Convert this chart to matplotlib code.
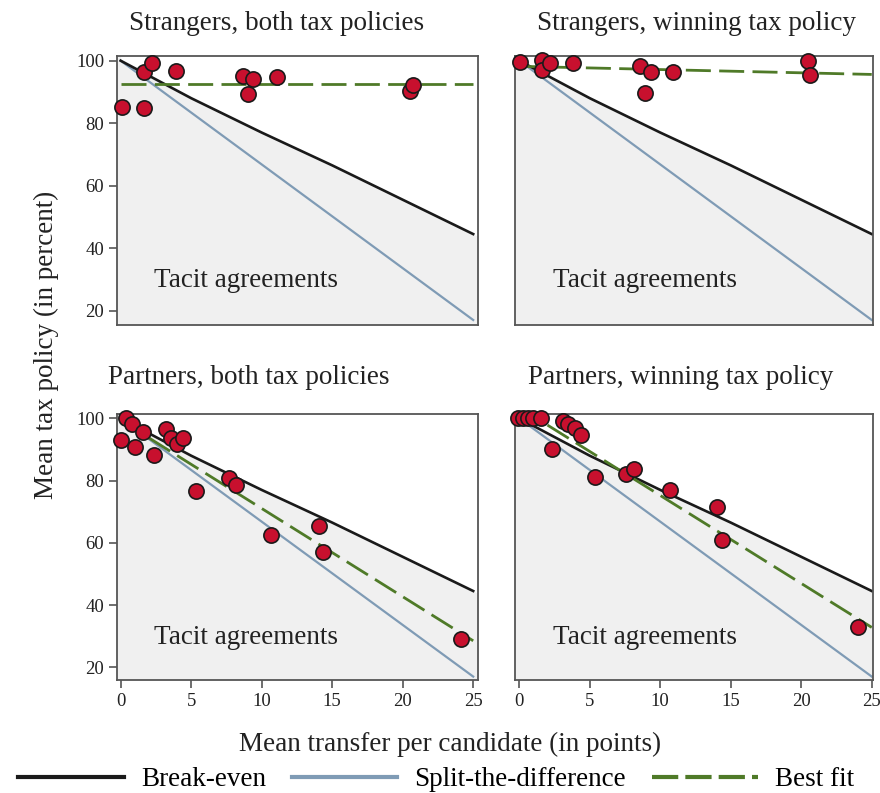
import matplotlib
matplotlib.use("Agg")
import numpy as np
import matplotlib.pyplot as plt
from matplotlib.lines import Line2D

# ---------------- data ----------------
titles = ["Strangers, both tax policies", "Strangers, winning tax policy",
          "Partners, both tax policies", "Partners, winning tax policy"]

s_both_x = [0.07, 1.67, 1.67, 2.2, 3.9, 8.7, 9.4, 9.0, 11.06, 20.5, 20.7]
s_both_y = [85.3, 85.0, 96.5, 99.4, 96.7, 95.1, 94.0, 89.2, 94.7, 90.3, 92.1]

s_win_x = [0.05, 1.58, 1.65, 2.17, 3.8, 8.6, 9.35, 8.9, 10.9, 20.5, 20.6]
s_win_y = [99.7, 100.2, 97.0, 99.4, 99.2, 98.3, 96.5, 89.6, 96.5, 100.0, 95.4]

p_both_x = [0.0, 0.38, 0.82, 1.56, 1.0, 2.36, 3.19, 3.55, 3.97, 4.4, 5.34, 7.68, 8.18,
            10.66, 14.08, 14.37, 24.1]
p_both_y = [93.2, 100.0, 98.1, 95.5, 90.9, 88.1, 96.5, 93.7, 91.7, 93.6, 76.6, 80.7, 78.6,
            62.5, 65.5, 57.2, 29.1]

p_win_x = [-0.07, 0.28, 0.64, 0.99, 1.52, 3.08, 3.47, 3.95, 4.35, 2.34, 5.37, 7.6, 8.13,
           10.7, 14.04, 14.35, 24.0]
p_win_y = [100.0, 100.0, 100.0, 100.0, 100.2, 99.1, 98.1, 96.8, 94.8, 90.0, 81.0, 82.0, 83.6,
           76.9, 71.5, 60.8, 33.0]

# reference curves
breakeven_x = [0, 5, 10, 15, 20, 25]
breakeven_y = [100.0, 88.0, 77.0, 66.5, 55.5, 44.5]
split_x = [0, 25]
split_y = [100.0, 17.0]

# best-fit lines per panel
fit_x = [0, 25]
fit_y = [[92.4, 92.4], [98.2, 95.6], [99.4, 28.5], [103.5, 32.8]]

points = [(s_both_x, s_both_y), (s_win_x, s_win_y), (p_both_x, p_both_y), (p_win_x, p_win_y)]

x_ticks = [0, 5, 10, 15, 20, 25]
y_ticks = [20, 40, 60, 80, 100]

# ---------------- style ----------------
plt.rcParams['font.family'] = ['Liberation Serif', 'DejaVu Serif']
BLACK = "#1a1a1a"
BLUE = "#7f9bb5"
GREEN = "#4f7a28"
RED = "#c8102e"
SHADE = "#f0f0f0"
SPINE = "#555555"
TXT = "#222222"
FS = 19.5

W, H = 880, 793
fig = plt.figure(figsize=(W / 100, H / 100), dpi=100)

# panel pixel boxes: left, right, top, bottom
boxes = [(116.7, 478.0, 56.0, 325.0), (515.0, 873.3, 56.0, 325.0),
         (116.7, 478.0, 414.0, 680.0), (515.0, 873.3, 414.0, 680.0)]
xlims = [(-0.28, 25.34), (-0.30, 25.11), (-0.28, 25.34), (-0.30, 25.11)]
ylims = [(15.4, 101.5), (15.4, 101.5), (15.9, 101.4), (15.9, 101.4)]
title_cx = [277, 696, 249, 681]
title_cy = [23, 23, 377, 377]

for i in range(4):
    l, r, t, b = boxes[i]
    ax = fig.add_axes([l / W, 1 - b / H, (r - l) / W, (b - t) / H])
    ax.set_xlim(*xlims[i])
    ax.set_ylim(*ylims[i])
    ax.set_facecolor(SHADE)
    # white region above break-even (last segment continued to the right edge)
    bx = list(breakeven_x)
    by = list(breakeven_y)
    slope = (by[-1] - by[-2]) / (bx[-1] - bx[-2])
    xr = xlims[i][1]
    bx.append(xr)
    by.append(by[-1] + slope * (xr - breakeven_x[-1]))
    ax.fill_between(bx, by, 200, color="white", zorder=0, lw=0)
    ax.plot(split_x, split_y, color=BLUE, lw=1.6, zorder=2)
    ax.plot(breakeven_x, breakeven_y, color=BLACK, lw=1.9, zorder=3)
    ax.plot(fit_x, fit_y[i], color=GREEN, lw=2.0, ls=(0, (9, 3)), zorder=4)
    px, py = points[i]
    ax.scatter(px, py, s=120, color=RED, edgecolors=BLACK, linewidths=1.2,
               zorder=5, clip_on=False)
    ax.text(2.4, 29.5, "Tacit agreements", fontsize=FS, va="center", ha="left",
            color=TXT, zorder=6)
    for sp in ax.spines.values():
        sp.set_color(SPINE)
        sp.set_linewidth(1.3)
        sp.set_zorder(4.5)
    ax.tick_params(direction="out", length=6, width=1.2, color=SPINE,
                   labelsize=13.5, labelcolor=TXT, pad=3)
    ax.set_xticks(x_ticks)
    ax.set_yticks(y_ticks)
    if i % 2 == 1:
        ax.tick_params(axis="y", left=False, labelleft=False)
    if i < 2:
        ax.tick_params(axis="x", bottom=False, labelbottom=False)
    fig.text(title_cx[i] / W, 1 - title_cy[i] / H, titles[i], fontsize=FS,
             ha="center", va="center", color=TXT)

fig.text(450 / W, 1 - 744 / H, "Mean transfer per candidate (in points)", fontsize=FS,
         ha="center", va="center", color=TXT)
fig.text(46 / W, 1 - 345 / H, "Mean tax policy (in percent)", fontsize=FS,
         ha="center", va="center", rotation=90, color=TXT)

handles = [Line2D([], [], color=BLACK, lw=3),
           Line2D([], [], color=BLUE, lw=3),
           Line2D([], [], color=GREEN, lw=3, ls=(0, (6.3, 1.7)))]
fig.legend(handles, ["Break-even", "Split-the-difference", "Best fit"],
           loc="center", bbox_to_anchor=(436 / W, 1 - 780 / H), ncol=3,
           frameon=False, fontsize=FS, handlelength=3.9, columnspacing=0.96,
           handletextpad=0.63, borderpad=0, borderaxespad=0)

fig.savefig("out.png", dpi=100)
